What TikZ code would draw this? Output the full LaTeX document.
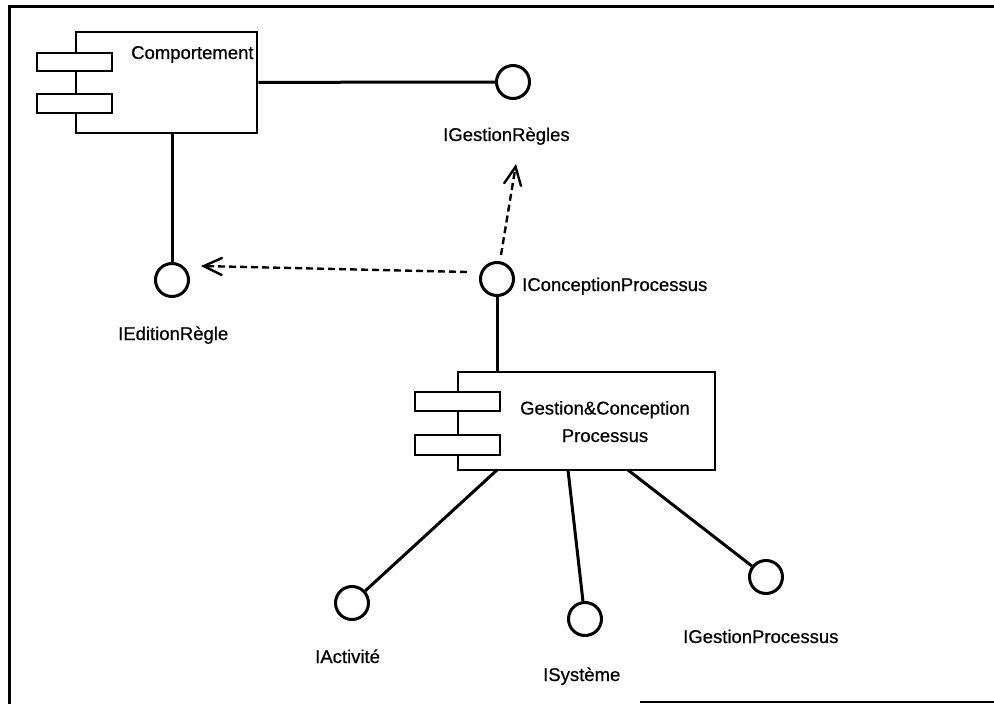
\documentclass[tikz,border=0pt]{standalone}
\usepackage{fontspec}
\setmainfont{Liberation Sans}
\newfontfamily\scanfont{Liberation Sans}[FakeBold=0.6]
\usetikzlibrary{arrows.meta}
\begin{document}
\begin{tikzpicture}[x=1pt,y=-1pt,
  lw/.style={line width=3pt},
  iface/.style={circle,draw,line width=3pt,minimum size=33pt,inner sep=0pt},
  lbl/.style={font=\scanfont\fontsize{18.5}{27.5}\selectfont,inner sep=0pt},
  comp/.style={draw,line width=2.8pt,inner sep=0pt,fill=white},
  port/.style={draw,line width=2.8pt,fill=white,inner sep=0pt},
  dep/.style={line width=2.4pt,dash pattern=on 7pt off 4pt,
    -{Straight Barb[length=18pt,width=17pt,line width=2.4pt,line cap=round]}},
]
\useasboundingbox (0,0) rectangle (994,704);
% page frame
\draw[line width=3pt] (9,704) -- (9,6) -- (994,6);
\draw[line width=2.4pt] (640,702) -- (994,702);

% component Comportement
\node[comp,minimum width=181pt,minimum height=101pt] (comp) at (166.5,82.5) {};
\node[port,minimum width=75pt,minimum height=18pt] (cp1) at (74.5,62) {};
\node[port,minimum width=75pt,minimum height=19pt] (cp2) at (74.5,103.5) {};
\node[lbl,anchor=base west] (compt) at (131,59) {Comportement};

% component Gestion&Conception Processus
\node[comp,minimum width=257pt,minimum height=98pt] (gc) at (586.5,421) {};
\node[port,minimum width=85pt,minimum height=19pt] (gp1) at (457.5,401.5) {};
\node[port,minimum width=85pt,minimum height=20pt] (gp2) at (457.5,445) {};
\node[lbl,align=center,anchor=base] (gct) at (605,442) {Gestion\&Conception\\Processus};

% interfaces
\node[iface] (igr) at (513,82) {};
\node[iface] (ied) at (172,280) {};
\node[iface] (icp) at (497,279) {};
\node[iface] (iact) at (352,603) {};
\node[iface] (isys) at (585,619) {};
\node[iface] (igp) at (766,577) {};

% labels
\node[lbl,anchor=base west] (igrt) at (443,141) {IGestionRègles};
\node[lbl,anchor=base west] (iedt) at (118,340) {IEditionRègle};
\node[lbl,anchor=base west] (icpt) at (522,291) {IConceptionProcessus};
\node[lbl,anchor=base west] (iactt) at (315,663) {IActivité};
\node[lbl,anchor=base west] (isyst) at (543,681) {ISystème};
\node[lbl,anchor=base west] (igpt) at (683,643) {IGestionProcessus};

% connectors
\draw[lw] (comp) -- (igr);
\draw[lw] (comp.south -| ied) -- (ied);
\draw[lw] (gc.north -| icp) -- (icp);
\coordinate (g1) at (497,470);
\coordinate (g2) at (568,470);
\coordinate (g3) at (628,470);
\draw[lw] (g1) -- (iact);
\draw[lw] (g2) -- (isys);
\draw[lw] (g3) -- (igp);

% dependencies
\coordinate (d1s) at ([shift={(-12,-7)}]icp.west);
\coordinate (d1e) at ([shift={(11,-14)}]ied.east);
\draw[dep] (d1s) -- (d1e);
\coordinate (d2s) at ([shift={(4,-6)}]icp.north);
\coordinate (d2e) at (516,164);
\draw[dep] (d2s) -- (d2e);
\end{tikzpicture}
\end{document}
